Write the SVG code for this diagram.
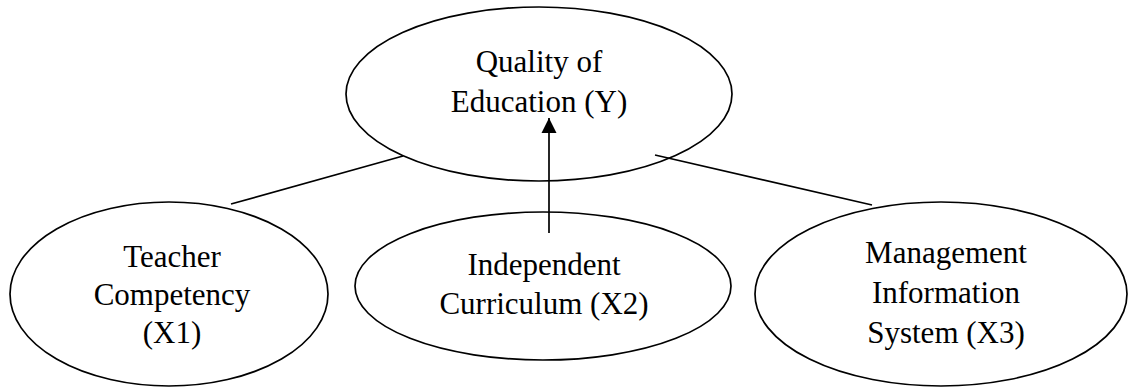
<svg xmlns="http://www.w3.org/2000/svg" width="1129" height="388" viewBox="0 0 1129 388">
  <style>
    .node ellipse { fill: none; stroke: #000000; stroke-width: 1.7; }
    .label { font-family: 'Liberation Serif', 'Times New Roman', 'DejaVu Serif', serif; font-size: 31px; fill: #000000; text-anchor: middle; }
    .edge { stroke: #000000; stroke-width: 1.7; fill: none; }
  </style>
  <defs>
    <marker id="arrow" markerUnits="userSpaceOnUse" markerWidth="16" markerHeight="16" viewBox="0 0 16 16" refX="15" refY="8" orient="auto">
      <path d="M0,0.5 L15,8 L0,15.5 Z" fill="#000000"/>
    </marker>
  </defs>

  <!-- outcome variable -->
  <g id="node-y" class="node">
    <ellipse cx="539" cy="94" rx="193" ry="87"/>
    <text class="label" x="539" y="72" font-family="Liberation Serif, serif">Quality of</text>
    <text class="label" x="539" y="112" font-family="Liberation Serif, serif">Education (Y)</text>
  </g>

  <!-- predictors -->
  <g id="node-x1" class="node">
    <ellipse cx="169" cy="294" rx="159" ry="92"/>
    <text class="label" x="172" y="267" font-family="Liberation Serif, serif">Teacher</text>
    <text class="label" x="172" y="305" font-family="Liberation Serif, serif">Competency</text>
    <text class="label" x="172" y="343" font-family="Liberation Serif, serif">(X1)</text>
  </g>

  <g id="node-x2" class="node">
    <ellipse cx="543" cy="286" rx="188" ry="74"/>
    <text class="label" x="544" y="275" font-family="Liberation Serif, serif">Independent</text>
    <text class="label" x="544" y="314" font-family="Liberation Serif, serif">Curriculum (X2)</text>
  </g>

  <g id="node-x3" class="node">
    <ellipse cx="941" cy="294" rx="186" ry="92"/>
    <text class="label" x="946" y="263" font-family="Liberation Serif, serif">Management</text>
    <text class="label" x="946" y="303" font-family="Liberation Serif, serif">Information</text>
    <text class="label" x="946" y="343" font-family="Liberation Serif, serif">System (X3)</text>
  </g>

  <!-- connectors -->
  <g id="connectors">
    <line class="edge" x1="403" y1="156" x2="231" y2="204"/>
    <line class="edge" x1="655" y1="155" x2="872" y2="205"/>
    <line class="edge" x1="549" y1="233" x2="549" y2="118" marker-end="url(#arrow)"/>
  </g>
</svg>
